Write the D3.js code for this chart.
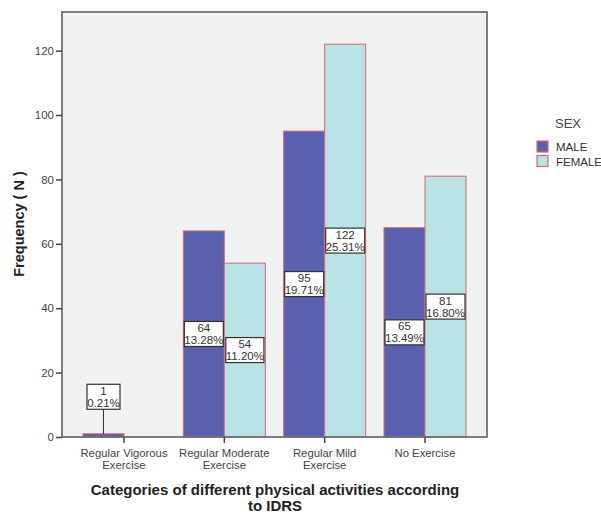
<!DOCTYPE html>
<html><head><meta charset="utf-8">
<script src="https://cdn.jsdelivr.net/npm/d3@7/dist/d3.min.js"></script>
<style>body{margin:0;background:#fff;} svg{display:block;font-family:"Liberation Sans",Arial,sans-serif;}</style>
</head><body>
<svg id="chart" width="601" height="513"></svg>
<script>
const categories = [["Regular Vigorous","Exercise"],["Regular Moderate","Exercise"],["Regular Mild","Exercise"],["No Exercise"]];
const seriesNames = ["MALE","FEMALE"];
const maleCounts = [1, 64, 95, 65];
const femaleCounts = [0, 54, 122, 81];
const malePct = ["0.21%","13.28%","19.71%","13.49%"];
const femalePct = ["0.00%","11.20%","25.31%","16.80%"];
const yTicks = [0,20,40,60,80,100,120];
const colors = {MALE:"#5a5fae", FEMALE:"#b9e3e6"};

const svg = d3.select("#chart");
const L=62, R=487, T=12, B=437;
const catKeys = categories.map(c=>c.join(" "));
const x0 = d3.scaleBand().domain(catKeys).range([L,R]).paddingInner(0).paddingOuter(0.118);
const y = d3.scaleLinear().domain([0,132]).range([B,T]);

svg.append("rect").attr("x",L).attr("y",T).attr("width",R-L).attr("height",B-T).attr("fill","#f0f1f1");

const rows = [];
catKeys.forEach((k,i)=>{
  rows.push({cat:k, s:"MALE", v:maleCounts[i], p:malePct[i]});
  rows.push({cat:k, s:"FEMALE", v:femaleCounts[i], p:femalePct[i]});
});
const halfW = 41;
const x1 = d3.scaleBand().domain(seriesNames).range([-halfW, halfW]);
const cx = k => x0(k)+x0.bandwidth()/2;

svg.append("g").selectAll("rect").data(rows.filter(d=>d.v>0)).join("rect")
  .attr("x",d=>cx(d.cat)+x1(d.s)).attr("width",x1.bandwidth())
  .attr("y",d=>y(d.v)).attr("height",d=>B-y(d.v))
  .attr("fill",d=>colors[d.s]).attr("stroke","#d46a74").attr("stroke-width",1);

// frame
svg.append("rect").attr("x",L).attr("y",T).attr("width",R-L).attr("height",B-T)
  .attr("fill","none").attr("stroke","#707070").attr("stroke-width",1.8);

// y axis
const yAxis = d3.axisLeft(y).tickValues(yTicks).tickSize(6).tickPadding(2);
const gy = svg.append("g").attr("transform",`translate(${L},0)`).call(yAxis);
gy.select(".domain").remove();
gy.selectAll("line").attr("stroke","#444").attr("stroke-width",1.5);
gy.selectAll("text").attr("font-size","11.5px").attr("fill","#444").attr("font-family","Liberation Sans, Arial, sans-serif");

// x axis ticks
const gx = svg.append("g").attr("transform",`translate(0,${B})`);
gx.selectAll("line").data(catKeys).join("line")
  .attr("x1",cx).attr("x2",cx).attr("y1",0).attr("y2",6).attr("stroke","#444").attr("stroke-width",1.5);
gx.selectAll("text").data(categories).join("text")
  .attr("text-anchor","middle").attr("font-size","11.3px").attr("fill","#444")
  .each(function(d,i){
    const t = d3.select(this);
    d.forEach((line,j)=>t.append("tspan").attr("x",cx(catKeys[i])).attr("y",20+j*11.5).text(line));
  });

// value labels
const lab = svg.append("g");
rows.filter(d=>d.v>0).forEach(d=>{
  const bx = cx(d.cat)+x1(d.s)+x1.bandwidth()/2;
  const barTop = y(d.v), mid = (barTop+B)/2;
  const boxH = 25;
  let cy = mid;
  const outside = (B-barTop) < boxH;
  if(outside){
    cy = barTop - 37;
    lab.append("line").attr("x1",bx).attr("x2",bx).attr("y1",cy+boxH/2).attr("y2",barTop)
      .attr("stroke","#333").attr("stroke-width",1);
  }
  const g = lab.append("g");
  const rect = g.append("rect").attr("fill","#fff").attr("stroke","#333").attr("stroke-width",1.2);
  const t = g.append("text").attr("text-anchor","middle").attr("font-size","11.5px").attr("fill","#333");
  t.append("tspan").attr("x",bx).attr("y",cy-2).text(d.v);
  t.append("tspan").attr("x",bx).attr("y",cy+10).text(d.p);
  const w = Math.max(t.node().getBBox().width, 33);
  rect.attr("x",bx-w/2).attr("y",cy-boxH/2).attr("width",w).attr("height",boxH);
});

// axis titles
svg.append("text").attr("transform","translate(24,224) rotate(-90)").attr("text-anchor","middle")
  .attr("font-size","14.5px").attr("font-weight","bold").attr("fill","#222").text("Frequency ( N )");
const xt = svg.append("text").attr("text-anchor","middle").attr("font-size","15px").attr("font-weight","bold").attr("fill","#222");
xt.append("tspan").attr("x",275).attr("y",495).text("Categories of different physical activities according");
xt.append("tspan").attr("x",275).attr("y",511).text("to IDRS");

// legend
const lg = svg.append("g");
lg.append("text").attr("x",555).attr("y",128).attr("font-size","13px").attr("fill","#444").text("SEX");
seriesNames.forEach((s,i)=>{
  lg.append("rect").attr("x",537).attr("y",141+i*14.5).attr("width",11).attr("height",11)
    .attr("fill",colors[s]).attr("stroke","#d46a74").attr("stroke-width",1.2);
  lg.append("text").attr("x",556).attr("y",151+i*14.5).attr("font-size","11.5px").attr("fill","#333").text(s);
});
</script>
</body></html>
